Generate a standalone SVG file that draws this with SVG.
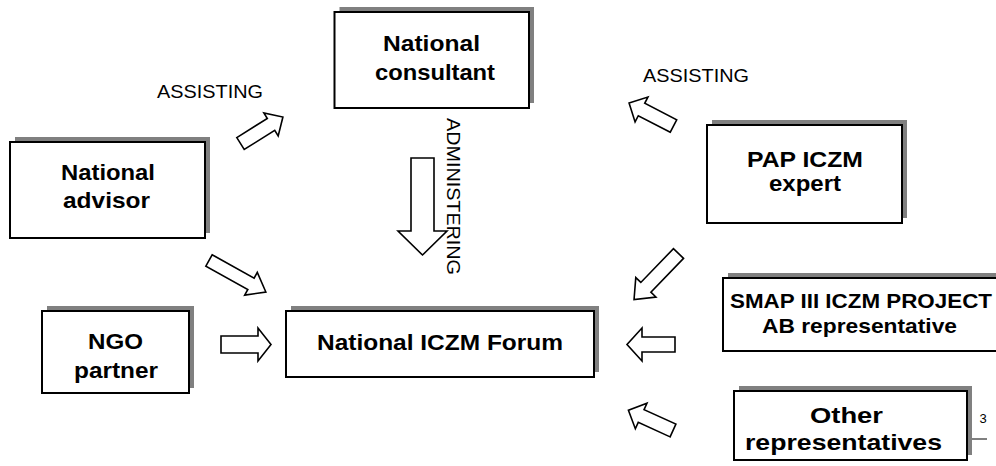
<svg xmlns="http://www.w3.org/2000/svg" width="996" height="466" viewBox="0 0 996 466">
<style>
.sh{fill:#808080}
.bx{fill:#fff;stroke:#000;stroke-width:2}
.t{font-family:"Liberation Sans",Arial,sans-serif;font-weight:bold;font-size:22px;fill:#000;text-anchor:middle}
.s{font-size:21px}
.l{font-family:"Liberation Sans",Arial,sans-serif;font-size:18px;fill:#000}
.ar{fill:#fff;stroke:#000;stroke-width:1.6;stroke-linejoin:miter}
</style>
<rect width="996" height="466" fill="#fff"/>
<g id="national-consultant">
<rect class="sh" x="339.5" y="7" width="194.5" height="96"/>
<rect class="bx" x="334.5" y="12" width="194.5" height="96"/>
<text class="t" x="431.5" y="51" textLength="97" lengthAdjust="spacingAndGlyphs">National</text>
<text class="t" x="435" y="80" textLength="120" lengthAdjust="spacingAndGlyphs">consultant</text>
</g>
<g id="national-advisor">
<rect class="sh" x="15" y="137" width="195" height="96"/>
<rect class="bx" x="10" y="142" width="195" height="96"/>
<text class="t" x="108" y="180" textLength="94" lengthAdjust="spacingAndGlyphs">National</text>
<text class="t" x="106.5" y="208" textLength="87" lengthAdjust="spacingAndGlyphs">advisor</text>
</g>
<g id="pap-iczm-expert">
<rect class="sh" x="712" y="120" width="195" height="98"/>
<rect class="bx" x="707" y="125" width="195" height="98"/>
<text class="t" x="805" y="167" textLength="116" lengthAdjust="spacingAndGlyphs">PAP ICZM</text>
<text class="t" x="805" y="191" textLength="72" lengthAdjust="spacingAndGlyphs">expert</text>
</g>
<g id="ngo-partner">
<rect class="sh" x="47" y="306" width="147" height="82"/>
<rect class="bx" x="42" y="311" width="147" height="82"/>
<text class="t" x="115.5" y="349" textLength="55" lengthAdjust="spacingAndGlyphs">NGO</text>
<text class="t" x="116" y="378" textLength="84" lengthAdjust="spacingAndGlyphs">partner</text>
</g>
<g id="national-iczm-forum">
<rect class="sh" x="291" y="306" width="308" height="66"/>
<rect class="bx" x="286" y="311" width="308" height="66"/>
<text class="t" x="440" y="350" textLength="246" lengthAdjust="spacingAndGlyphs">National ICZM Forum</text>
</g>
<g id="smap-representative">
<rect class="sh" x="728" y="273" width="280" height="73"/>
<rect class="bx" x="723" y="278" width="280" height="73"/>
<text class="t s" x="861" y="308" textLength="262" lengthAdjust="spacingAndGlyphs">SMAP III ICZM PROJECT</text>
<text class="t s" x="859.5" y="333" textLength="195" lengthAdjust="spacingAndGlyphs">AB representative</text>
</g>
<g id="other-representatives">
<rect class="sh" x="739" y="386" width="233" height="69"/>
<rect class="bx" x="734" y="391" width="233" height="69"/>
<text class="t" x="846.5" y="423" textLength="73" lengthAdjust="spacingAndGlyphs">Other</text>
<text class="t" x="843.5" y="450" textLength="197" lengthAdjust="spacingAndGlyphs">representatives</text>
</g>
<g id="connectors">
<path class="ar" transform="translate(240.5,143.5) rotate(-32)" d="M0,-7 H36 V-13.5 L50,0 L36,13.5 V7 H0 Z"/>
<path class="ar" transform="translate(673.5,126) rotate(-152.7)" d="M0,-7 H36 V-14 L50,0 L36,14 V7 H0 Z"/>
<path class="ar" transform="translate(209,260.5) rotate(29)" d="M0,-6.5 H48 V-13 L65,0 L48,13 V6.5 H0 Z"/>
<path class="ar" transform="translate(221,344.5)" d="M0,-8.5 H37 V-16.5 L50,0 L37,16.5 V8.5 H0 Z"/>
<path class="ar" transform="translate(678.5,253.5) rotate(134)" d="M0,-7 H47 V-14 L64,0 L47,14 V7 H0 Z"/>
<path class="ar" transform="translate(675,344.5) rotate(180)" d="M0,-7.5 H33 V-16.5 L48,0 L33,16.5 V7.5 H0 Z"/>
<path class="ar" transform="translate(673,430.5) rotate(-155.5)" d="M0,-7 H35 V-14 L49,0 L35,14 V7 H0 Z"/>
<path class="ar" transform="translate(422.5,158) rotate(90)" d="M0,-11.5 H73 V-24.5 L97,0 L73,24.5 V11.5 H0 Z"/>
<text class="l" x="157" y="98" textLength="106" lengthAdjust="spacingAndGlyphs">ASSISTING</text>
<text class="l" x="643" y="82" textLength="106" lengthAdjust="spacingAndGlyphs">ASSISTING</text>
<text class="l" transform="translate(447,118) rotate(90)" x="0" y="0" font-size="19" textLength="157" lengthAdjust="spacingAndGlyphs">ADMINISTERING</text>
</g>
<text font-family="Liberation Sans, Arial, sans-serif" font-size="13" x="979.5" y="423">3</text>
<line x1="972" y1="439" x2="987" y2="439" stroke="#000" stroke-width="1"/>
</svg>
